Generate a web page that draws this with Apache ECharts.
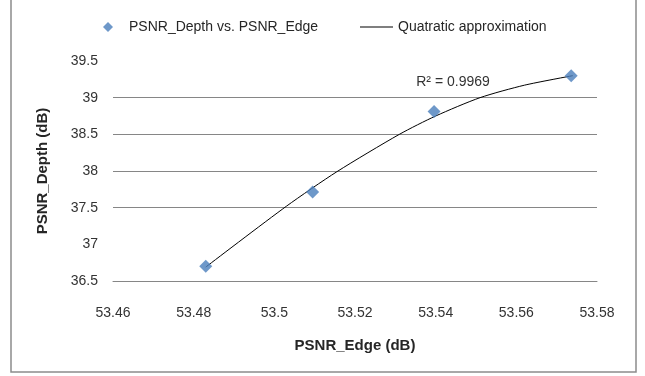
<!DOCTYPE html>
<html>
<head>
<meta charset="utf-8">
<script src="https://cdn.jsdelivr.net/npm/echarts@6/dist/echarts.min.js"></script>
<style>
  html, body { margin: 0; padding: 0; background: #ffffff; }
  #chart { width: 645px; height: 376px; }
</style>
</head>
<body>
<div id="chart"></div>
<script>
// measured points
const edgeX = [53.483, 53.5095, 53.5396, 53.5736];
const depthY = [36.7, 37.715, 38.81, 39.3];

// quadratic trend line
const trendX = [53.483, 53.503, 53.5155, 53.531, 53.54, 53.551, 53.562, 53.574];
const trendY = [36.69, 37.52, 37.99, 38.5, 38.75, 39.0, 39.17, 39.3];

const xTicks = [53.46, 53.48, 53.5, 53.52, 53.54, 53.56, 53.58];
const yTicks = [36.5, 37, 37.5, 38, 38.5, 39, 39.5];

const pointName = 'PSNR_Depth vs. PSNR_Edge';
const trendName = 'Quatratic approximation';
const rSquared = 'R\u00b2 = 0.9969';

const font = '"Liberation Sans", Arial, sans-serif';
const gridGray = '#868686';
const textColor = '#262626';

const chart = echarts.init(document.getElementById('chart'), null, { renderer: 'canvas' });

const option = {
    backgroundColor: '#ffffff',
    animation: false,
    textStyle: { fontFamily: font },
    grid: { left: 113, right: 48, top: 61, bottom: 95 },
    legend: [{
        data: [{ name: pointName, icon: 'diamond' }],
        left: 98, top: 15,
        itemWidth: 10, itemHeight: 10,
        textStyle: { fontFamily: font, fontSize: 14, color: textColor, padding: [0, 0, 0, 11] }
    }, {
        data: [{ name: trendName, icon: 'rect' }],
        left: 355, top: 15,
        itemWidth: 33, itemHeight: 1,
        itemStyle: { color: '#000000' },
        textStyle: { fontFamily: font, fontSize: 14, color: textColor }
    }],
    xAxis: {
        type: 'value',
        min: xTicks[0],
        max: xTicks[xTicks.length - 1],
        interval: 0.02,
        name: 'PSNR_Edge (dB)',
        nameLocation: 'middle',
        nameGap: 57,
        nameTextStyle: { fontFamily: font, fontSize: 15, fontWeight: 'bold', color: textColor },
        axisLine: { show: true, lineStyle: { color: gridGray, width: 1 } },
        axisTick: { show: false },
        splitLine: { show: false },
        axisLabel: {
            margin: 25,
            fontSize: 14,
            color: '#333333',
            formatter: function (v) { return String(+v.toFixed(2)); }
        }
    },
    yAxis: {
        type: 'value',
        min: yTicks[0],
        max: yTicks[yTicks.length - 1],
        interval: 0.5,
        name: 'PSNR_Depth (dB)',
        nameLocation: 'middle',
        nameGap: 63,
        nameTextStyle: { fontFamily: font, fontSize: 15, fontWeight: 'bold', color: textColor },
        axisLine: { show: false },
        axisTick: { show: false },
        splitLine: {
            show: true,
            showMinLine: false,
            showMaxLine: false,
            lineStyle: { color: ['rgba(0,0,0,0)', gridGray, gridGray, gridGray, gridGray], width: 1 }
        },
        axisLabel: {
            margin: 15,
            fontSize: 14,
            color: '#333333',
            formatter: function (v) { return String(+v.toFixed(1)); }
        }
    },
    series: [{
        name: trendName,
        type: 'line',
        data: trendX.map((x, i) => [x, trendY[i]]),
        smooth: 0.25,
        symbol: 'none',
        lineStyle: { color: '#000000', width: 1 },
        itemStyle: { color: '#000000' },
        z: 2,
        markPoint: {
            symbol: 'circle',
            symbolSize: 0,
            data: [{ coord: [53.5443, 39.21] }],
            label: {
                show: true,
                position: 'inside',
                formatter: rSquared,
                fontFamily: font,
                fontSize: 14,
                color: '#333333'
            }
        }
    }, {
        name: pointName,
        type: 'scatter',
        data: edgeX.map((x, i) => [x, depthY[i]]),
        symbol: 'diamond',
        symbolSize: 13,
        itemStyle: { color: '#4a7ebb' },
        z: 3
    }],
    graphic: [{
        type: 'rect',
        shape: { x: 11, y: -10, width: 625, height: 382 },
        style: { fill: 'none', stroke: '#8c8c8c', lineWidth: 1.5 },
        silent: true
    }]
};

chart.setOption(option);
</script>
</body>
</html>
